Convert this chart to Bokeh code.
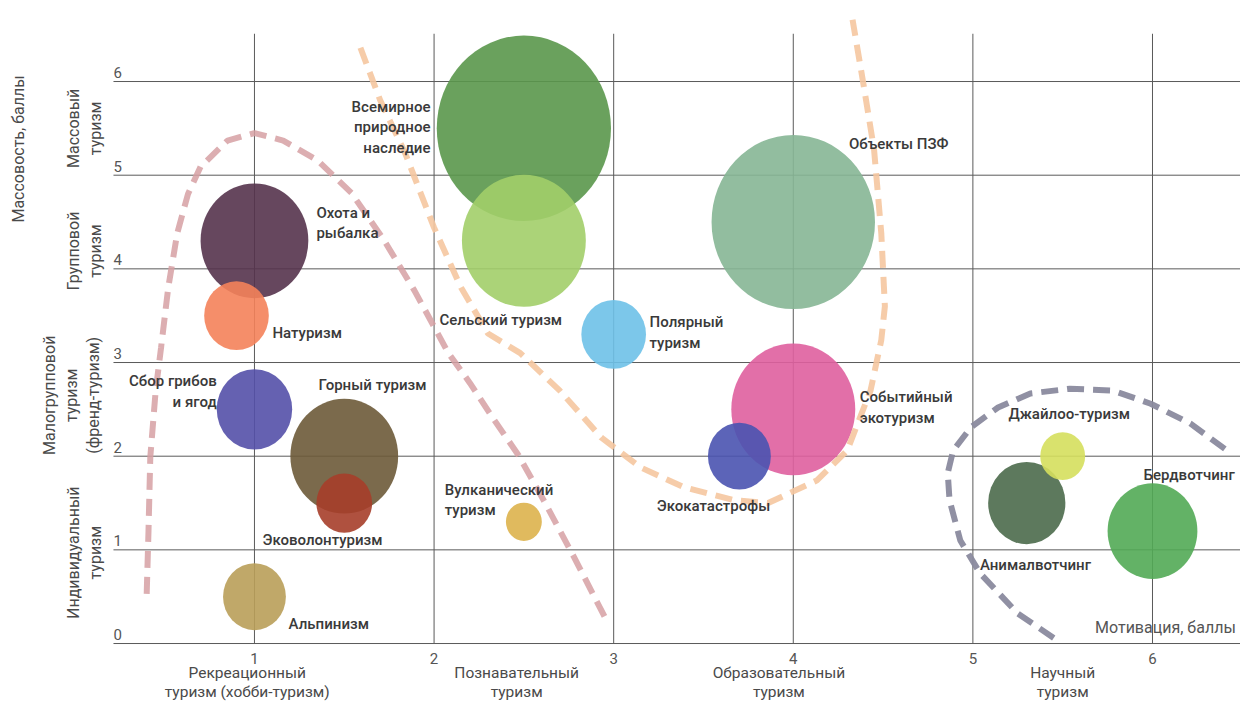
import math
from bokeh.plotting import figure
from bokeh.models import Range1d, ColumnDataSource
from bokeh.core.properties import value
from bokeh.embed import file_html
from bokeh.resources import INLINE

# ---------------- data ----------------
names = ["Всемирное природное наследие", "Сельский туризм", "Объекты ПЗФ", "Полярный туризм",
         "Событийный экотуризм", "Экокатастрофы", "Вулканический туризм", "Охота и рыбалка",
         "Натуризм", "Сбор грибов и ягод", "Горный туризм", "Эковолонтуризм", "Альпинизм",
         "Анималвотчинг", "Джайлоо-туризм", "Бердвотчинг"]
motivation = [2.5, 2.5, 4.0, 3.0, 4.0, 3.7, 2.5, 1.0, 0.9, 1.0, 1.5, 1.5, 1.0, 5.3, 5.5, 6.0]
mass = [5.5, 4.3, 4.5, 3.3, 2.5, 2.0, 1.3, 4.3, 3.5, 2.5, 2.0, 1.5, 0.5, 1.5, 2.0, 1.2]
bubble = [0.97, 0.69, 0.91, 0.36, 0.69, 0.35, 0.20, 0.60, 0.36, 0.42, 0.60, 0.31, 0.35, 0.43, 0.25, 0.50]
colors = ["#5a974b", "#a2ce69", "#86b695", "#6ec1e8", "#df5f9f", "#4a53b0", "#ddb24d", "#55334d",
          "#f4825a", "#5450a8", "#6d5a38", "#a63e2a", "#b99f59", "#4b6a4b", "#d5df5d", "#52aa55"]

x_ticks = [1, 2, 3, 4, 5, 6]
y_ticks = [0, 1, 2, 3, 4, 5, 6]
x_categories = ["Рекреационный\nтуризм (хобби-туризм)", "Познавательный\nтуризм",
                "Образовательный\nтуризм", "Научный\nтуризм"]
x_category_pos = [0.96, 2.46, 3.92, 5.50]
y_categories = ["Массовый\nтуризм", "Групповой\nтуризм", "Малогрупповой\nтуризм\n(френд-туризм)",
                "Индивидуальный\nтуризм"]
y_category_pos = [5.50, 4.19, 2.65, 0.97]
y_category_x = [0.053, 0.053, -0.019, 0.053]

# bubble labels
lab_text = ["Всемирное\nприродное\nнаследие", "Объекты ПЗФ", "Охота и\nрыбалка", "Натуризм",
            "Сельский туризм", "Полярный\nтуризм", "Сбор грибов\nи ягод", "Горный туризм",
            "Эковолонтуризм", "Альпинизм", "Вулканический\nтуризм", "Экокатастрофы",
            "Событийный\nэкотуризм", "Джайлоо-туризм", "Бердвотчинг", "Анималвотчинг"]
lab_x = [1.98, 4.31, 1.345, 1.10, 2.03, 3.20, 0.79, 1.356, 1.045, 1.19, 2.06, 3.24, 4.37, 5.198, 5.95, 5.04]
lab_y = [5.51, 5.33, 4.49, 3.32, 3.45, 3.32, 2.69, 2.765, 1.10, 0.21, 1.53, 1.47, 2.52, 2.455, 1.80, 0.84]
lab_align = ["right", "left", "left", "left", "left", "left", "right", "left", "left", "left",
             "left", "left", "left", "left", "left", "left"]

# dashed zone outlines
pink_x = [0.40, 0.41, 0.42, 0.45, 0.48, 0.52, 0.57, 0.63, 0.70, 0.85, 1.0, 1.16, 1.35, 1.54,
          1.72, 1.89, 2.08, 2.2, 2.33, 2.47, 2.61, 2.78, 2.97]
pink_y = [0.53, 1.2, 1.99, 2.7, 3.16, 3.8, 4.38, 4.8, 5.09, 5.37, 5.45, 5.37, 5.16, 4.81,
          4.31, 3.77, 3.1, 2.78, 2.4, 2.01, 1.53, 0.92, 0.21]
orange_x = [1.59, 1.70, 1.84, 2.0, 2.15, 2.30, 2.48, 2.70, 2.93, 3.15, 3.39, 3.67, 3.86, 4.13,
            4.30, 4.43, 4.49, 4.51, 4.49, 4.45, 4.39, 4.33]
orange_y = [6.36, 5.8, 5.23, 4.44, 3.80, 3.31, 3.1, 2.70, 2.2, 1.88, 1.67, 1.53, 1.5, 1.74,
            2.06, 2.70, 3.24, 3.6, 4.38, 5.27, 5.98, 6.66]
gray_x = [5.45, 5.25, 5.04, 4.93, 4.87, 4.86, 4.89, 4.99, 5.14, 5.32, 5.54, 5.78, 5.99, 6.21, 6.43]
gray_y = [0.06, 0.32, 0.75, 1.10, 1.53, 1.82, 2.06, 2.31, 2.52, 2.67, 2.72, 2.70, 2.56, 2.35, 2.04]

# ---------------- figure ----------------
W, H = 1240, 707
p = figure(width=W, height=H, output_backend="svg", toolbar_location=None,
           x_axis_location=None, y_axis_location=None,
           x_range=Range1d(-0.414, 6.490), y_range=Range1d(-0.683, 6.865),
           min_border=0, outline_line_color=None)
p.background_fill_color = "white"
p.xgrid.visible = False
p.ygrid.visible = False

# grid drawn from tick arrays
grid_col = "#5a5a5a"
p.segment(x0=x_ticks, x1=x_ticks, y0=[0] * len(x_ticks), y1=[6.51] * len(x_ticks),
          line_color=grid_col, line_width=1)
p.segment(x0=[0.215] * len(y_ticks), x1=[6.50] * len(y_ticks), y0=y_ticks, y1=y_ticks,
          line_color=grid_col, line_width=1)

# pixel aspect: x px per unit / y px per unit
aspect = (179.6 / 93.67) * 1.065
src = ColumnDataSource(dict(x=motivation, y=mass, w=bubble, h=[b * aspect for b in bubble], c=colors))
p.ellipse(x="x", y="y", width="w", height="h", fill_color="c", fill_alpha=0.9,
          line_color=None, source=src)

dash = "17 9"
p.line(pink_x, pink_y, line_color="#d6a0a3", line_width=6, line_dash=dash, line_alpha=0.85)
p.line(orange_x, orange_y, line_color="#f5c7a0", line_width=6, line_dash=dash, line_alpha=0.9)
p.line(gray_x, gray_y, line_color="#8a8a9e", line_width=6, line_dash=dash, line_alpha=0.95)

font = value("Roboto")
label_font = value("Roboto Medium")
# bubble labels
for al in ["left", "right"]:
    idx = [i for i, a in enumerate(lab_align) if a == al]
    p.text(x=[lab_x[i] for i in idx], y=[lab_y[i] for i in idx], text=[lab_text[i] for i in idx],
           text_font=label_font, text_font_size="15px", text_color="#3a3a3a",
           text_align=al, text_baseline="middle", text_line_height=1.13)

p.text(x=[5.68], y=[0.17], text=["Мотивация, баллы"], text_font=font, text_font_size="16px",
       text_color="#555555", text_align="left", text_baseline="middle")

# tick labels
p.text(x=x_ticks, y=[-0.16] * len(x_ticks), text=[str(t) for t in x_ticks], text_font=font,
       text_font_size="15px", text_color="#555555", text_align="center", text_baseline="middle")
p.text(x=[0.215] * len(y_ticks), y=[t + 0.096 for t in y_ticks], text=[str(t) for t in y_ticks],
       text_font=font, text_font_size="15px", text_color="#555555", text_align="left",
       text_baseline="middle")

# category labels
p.text(x=x_category_pos, y=[-0.2135] * len(x_category_pos), text=x_categories, text_font=font,
       text_font_size="15.5px", text_color="#4a4a4a", text_align="center", text_baseline="top",
       text_line_height=1.11)
p.text(x=y_category_x, y=y_category_pos, text=y_categories, text_font=font, text_font_size="16px",
       text_color="#4a4a4a", text_align="center", text_baseline="middle", angle=math.pi / 2,
       text_line_height=1.15)
p.text(x=[-0.314], y=[5.28], text=["Массовость, баллы"], text_font=font, text_font_size="16px",
       text_color="#4a4a4a", text_align="center", text_baseline="middle", angle=math.pi / 2)

open("out.html", "w").write(file_html(p, INLINE))
